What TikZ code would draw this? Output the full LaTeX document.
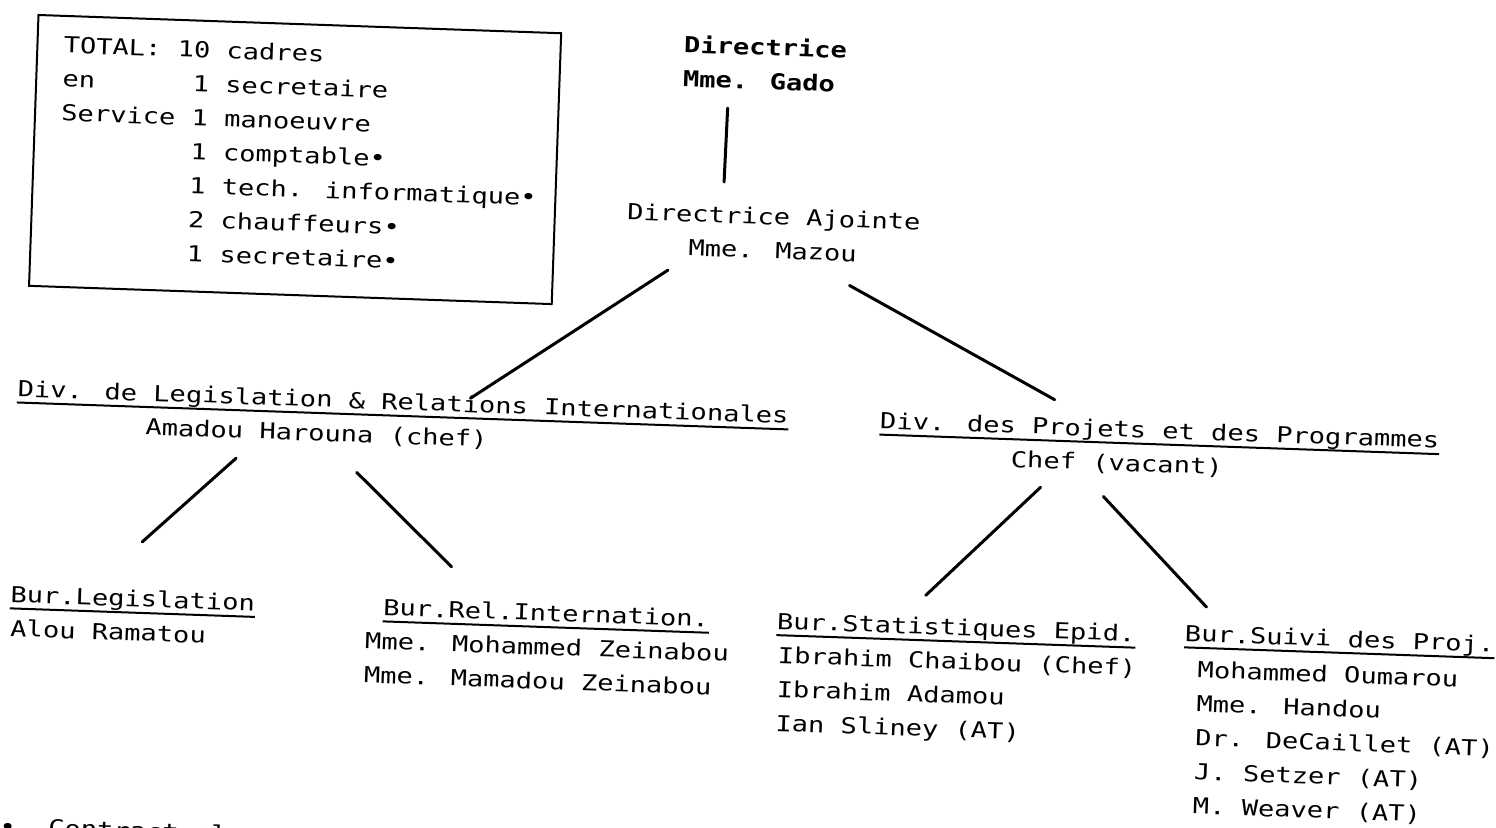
\documentclass[tikz,border=0pt]{standalone}
\usepackage{fontspec}
\newfontfamily\dotfont[FakeStretch=1.23]{DejaVu Sans Mono}
\usetikzlibrary{positioning}

\tikzset{
  txt/.style={font=\dotfont\fontsize{11}{17}\selectfont, inner sep=0pt, align=left, anchor=base west},
  boss/.style={txt, font=\dotfont\bfseries\fontsize{11}{17}\selectfont},
  link/.style={black, line width=1.5pt, line cap=round},
  uline/.style={black, line width=1pt},
  frame/.style={black, line width=1pt}
}

% line ends of the chart (unrotated frame, 1 unit = 1 px)
\newcommand{\ChartEnds}{
    \coordinate (gado-foot)   at (717,109);
    \coordinate (mazou-head)  at (716,183);
    \coordinate (mazou-left)  at (663,273);
    \coordinate (divL-head)   at (470,408);
    \coordinate (mazou-right) at (845,282);
    \coordinate (divP-head)   at (1054,389);
    \coordinate (divL-left)   at (238,476);
    \coordinate (burL-head)   at (147,563);
    \coordinate (divL-right)  at (359,486);
    \coordinate (burR-head)   at (457,577);
    \coordinate (divP-left)   at (1043,477);
    \coordinate (burS-head)   at (932,589);
    \coordinate (divP-right)  at (1106,484);
    \coordinate (burP-head)   at (1213,591);
}

\begin{document}
\begin{tikzpicture}[x=0.5pt, y=-0.5pt]
\useasboundingbox (0,0) rectangle (1496,828);
\clip (0,0) rectangle (1496,828);

\begin{scope}[rotate around={-2:(748,414)}, transform shape]
\ChartEnds

% staff box (multi-line nodes sit on their last baseline)
\draw[frame] (25,40) rectangle (548,311);
\node[txt] (staff) at (51,281) {TOTAL: 10 cadres\\
en\hphantom{rvice} 1 secretaire\\
Service 1 manoeuvre\\
\hphantom{Service} 1 comptable•\\
\hphantom{Service} 1 tech. informatique•\\
\hphantom{Service} 2 chauffeurs•\\
\hphantom{Service} 1 secretaire•};

% direction
\node[boss] (gado) at (671,89) {Directrice\\Mme. Gado};
\node[txt, align=center, anchor=base] (mazou) at (767,258) {Directrice Ajointe\\Mme. Mazou};

% divisions
\node[txt] (divL) at (17,422) {Div. de Legislation \& Relations Internationales};
\node[txt] (divLn) at (146,456) {Amadou Harouna (chef)};
\node[txt] (divP) at (880,424) {Div. des Projets et des Programmes};
\node[txt] (divPn) at (1012,458) {Chef (vacant)};

% bureaux
\node[txt] (burL) at (17,628) {Bur.Legislation};
\node[txt] (burLn) at (18,662) {Alou Ramatou};
\node[txt] (burR) at (390,628) {Bur.Rel.Internation.};
\node[txt] (burRn) at (373,696) {Mme. Mohammed Zeinabou\\Mme. Mamadou Zeinabou};
\node[txt] (burS) at (784,628) {Bur.Statistiques Epid.};
\node[txt] (burSn) at (786,730) {Ibrahim Chaibou (Chef)\\Ibrahim Adamou\\Ian Sliney (AT)};
\node[txt] (burP) at (1192,626) {Bur.Suivi des Proj.};
\node[txt] (burPn) at (1206,798) {Mohammed Oumarou\\Mme. Handou\\Dr. DeCaillet (AT)\\J. Setzer (AT)\\M. Weaver (AT)};

\foreach \n in {divL,divP,burL,burR,burS,burP}
    \draw[uline] ([yshift=-3pt]\n.base west) -- ([yshift=-3pt]\n.base east);

\node[txt] (note) at (14,860) {•\ \ Contractuel};

% links
\draw[link] (gado-foot) -- (mazou-head);
\draw[link] (mazou-left) -- (divL-head);
\draw[link] (mazou-right) -- (divP-head);
\draw[link] (divL-left) -- (burL-head);
\draw[link] (divL-right) -- (burR-head);
\draw[link] (divP-left) -- (burS-head);
\draw[link] (divP-right) -- (burP-head);
\end{scope}
\end{tikzpicture}
\end{document}
